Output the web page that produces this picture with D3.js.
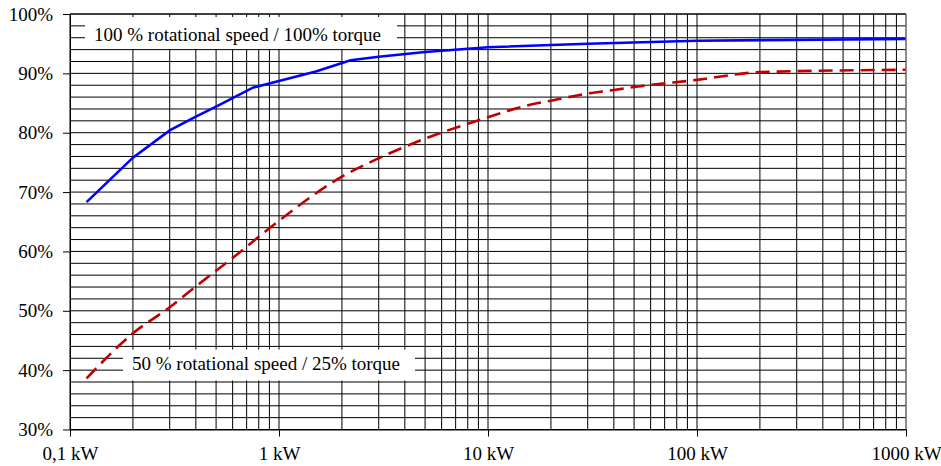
<!DOCTYPE html>
<html>
<head>
<meta charset="utf-8">
<script src="https://cdn.jsdelivr.net/npm/d3@7"></script>
<style>
  body { margin: 0; background: #fff; }
  svg text { font-family: "Liberation Serif", "DejaVu Serif", serif !important; }
</style>
</head>
<body>
<div id="chart"></div>
<script>
const width = 941
const height = 466
const margin = { top: 14, bottom: 36.5, left: 70, right: 35 }

// power in kW, efficiency in %
const fullPower = [0.12, 0.2, 0.3, 0.4, 0.5, 0.75, 1, 1.5, 2.2, 3, 5, 10, 30, 100, 1000]
const fullEff = [68.3, 75.8, 80.4, 82.7, 84.4, 87.6, 88.7, 90.3, 92.2, 92.8, 93.6, 94.4, 95.0, 95.5, 95.8]

const halfPower = [0.12, 0.2, 0.3, 0.4, 0.6, 0.9, 2, 3, 5, 10, 15, 20, 30, 40, 50, 100, 200, 1000]
const halfEff = [38.6, 46.2, 50.6, 54.1, 58.9, 63.9, 72.6, 75.7, 79.0, 82.6, 84.5, 85.4, 86.6, 87.2, 87.7, 88.9, 90.2, 90.6]

const xTickLabels = ["0,1 kW", "1 kW", "10 kW", "100 kW", "1000 kW"]
const xTickValues = [0.1, 1, 10, 100, 1000]
const yTickValues = [30, 40, 50, 60, 70, 80, 90, 100]

const fullLabel = "100 % rotational speed / 100% torque"
const halfLabel = "50 % rotational speed / 25% torque"

const serif = "'Liberation Serif', 'DejaVu Serif', serif"

const svg = d3.select("div#chart").append("svg").attr("width", width).attr("height", height)

const x = d3.scaleLog().domain([0.1, 1000]).range([margin.left, width - margin.right])
const y = d3.scaleLinear().domain([30, 100]).range([height - margin.bottom, margin.top])

const gridGroup = svg.append("g").attr("id", "gridGroup")
const lineGroup = svg.append("g").attr("id", "lineGroup")
const labelGroup = svg.append("g").attr("id", "labelGroup")
const axisGroup = svg.append("g").attr("id", "axisGroup")

// grid
gridGroup.selectAll("line.h").data(d3.range(30, 101, 2)).enter().append("line")
    .attr("class", "h")
    .attr("x1", x(0.1)).attr("x2", x(1000))
    .attr("y1", d => y(d)).attr("y2", d => y(d))
    .attr("stroke", "#000").attr("stroke-width", 1)

gridGroup.selectAll("line.v").data(x.ticks()).enter().append("line")
    .attr("class", "v")
    .attr("x1", d => x(d)).attr("x2", d => x(d))
    .attr("y1", y(30)).attr("y2", y(100))
    .attr("stroke", "#000").attr("stroke-width", 1)

// label boxes
function addLabel(txt, tx, ty, box) {
    labelGroup.append("rect")
        .attr("x", box[0]).attr("y", box[1]).attr("width", box[2]).attr("height", box[3])
        .attr("fill", "#fff")
    labelGroup.append("text").text(txt)
        .attr("x", tx).attr("y", ty)
        .attr("font-family", serif)
        .style("font-size", "19px").attr("fill", "#000")
}
addLabel(fullLabel, 94, 41, [85, 17, 312, 32])
addLabel(halfLabel, 132, 370, [123, 349.5, 292, 31])

// curves
const full = fullPower.map((p, i) => ({ p: p, e: fullEff[i] }))
const half = halfPower.map((p, i) => ({ p: p, e: halfEff[i] }))

const lineFull = d3.line().x(d => x(d.p)).y(d => y(d.e))
const lineHalf = d3.line().x(d => x(d.p)).y(d => y(d.e)).curve(d3.curveMonotoneX)

lineGroup.append("path").datum(full)
    .attr("d", lineFull)
    .attr("fill", "none").attr("stroke", "#0000ff").attr("stroke-width", 2.6)

lineGroup.append("path").datum(half)
    .attr("d", lineHalf)
    .attr("fill", "none").attr("stroke", "#c00000").attr("stroke-width", 2.6)
    .style("stroke-dasharray", "14, 7")

// axes
const yAxis = d3.axisLeft(y).tickValues(yTickValues).tickSize(7).tickSizeOuter(0)
    .tickFormat(d => d + "%")
const xAxis = d3.axisBottom(x).tickValues(xTickValues).tickSize(7).tickSizeOuter(0)
    .tickFormat((d, i) => xTickLabels[i])

const yAxisGroup = axisGroup.append("g").attr("transform", `translate(${margin.left}, 0)`).call(yAxis)
const xAxisGroup = axisGroup.append("g").attr("transform", `translate(0, ${height - margin.bottom})`).call(xAxis)

axisGroup.selectAll("g").attr("font-family", serif).attr("font-size", 19)
axisGroup.selectAll(".domain").attr("stroke", "#000")
axisGroup.selectAll(".tick line").attr("stroke", "#000")
axisGroup.selectAll(".tick text").attr("fill", "#000")
yAxisGroup.selectAll(".tick text").attr("x", -17)
xAxisGroup.selectAll(".tick text").attr("y", 17)

// top and right border
axisGroup.append("line").attr("x1", x(0.1)).attr("x2", x(1000)).attr("y1", y(100)).attr("y2", y(100)).attr("stroke", "#000")
axisGroup.append("line").attr("x1", x(1000)).attr("x2", x(1000)).attr("y1", y(100)).attr("y2", y(30)).attr("stroke", "#999")
</script>
</body>
</html>
